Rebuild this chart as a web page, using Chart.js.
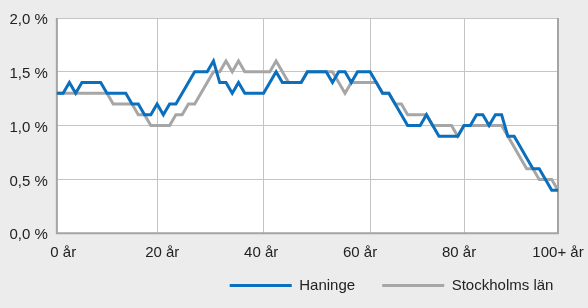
<!DOCTYPE html>
<html>
<head>
<meta charset="utf-8">
<script src="https://cdn.jsdelivr.net/npm/chart.js@4.4.1/dist/chart.umd.min.js"></script>
<style>
  html, body { margin: 0; padding: 0; background: #ececec; }
  #wrap { width: 588px; height: 308px; }
</style>
</head>
<body>
<div id="wrap"><canvas id="ageChart" width="588" height="308"></canvas></div>
<script>
// Andel av befolkningen per ålder (%)
const haninge = [
    1.3, 1.3, 1.4, 1.3, 1.4, 1.4, 1.4, 1.4, 1.3, 1.3,
    1.3, 1.3, 1.2, 1.2, 1.1, 1.1, 1.2, 1.1, 1.2, 1.2,
    1.3, 1.4, 1.5, 1.5, 1.5, 1.6, 1.4, 1.4, 1.3, 1.4,
    1.3, 1.3, 1.3, 1.3, 1.4, 1.5, 1.4, 1.4, 1.4, 1.4,
    1.5, 1.5, 1.5, 1.5, 1.4, 1.5, 1.5, 1.4, 1.5, 1.5,
    1.5, 1.4, 1.3, 1.3, 1.2, 1.1, 1.0, 1.0, 1.0, 1.1,
    1.0, 0.9, 0.9, 0.9, 0.9, 1.0, 1.0, 1.1, 1.1, 1.0,
    1.1, 1.1, 0.9, 0.9, 0.8, 0.7, 0.6, 0.6, 0.5, 0.4,
    0.4
];
const stockholmsLan = [
    1.3, 1.3, 1.3, 1.3, 1.3, 1.3, 1.3, 1.3, 1.3, 1.2,
    1.2, 1.2, 1.2, 1.1, 1.1, 1.0, 1.0, 1.0, 1.0, 1.1,
    1.1, 1.2, 1.2, 1.3, 1.4, 1.5, 1.5, 1.6, 1.5, 1.6,
    1.5, 1.5, 1.5, 1.5, 1.5, 1.6, 1.5, 1.4, 1.4, 1.4,
    1.5, 1.5, 1.5, 1.5, 1.5, 1.4, 1.3, 1.4, 1.4, 1.4,
    1.4, 1.4, 1.3, 1.3, 1.2, 1.2, 1.1, 1.1, 1.1, 1.1,
    1.0, 1.0, 1.0, 1.0, 0.9, 1.0, 1.0, 1.0, 1.0, 1.0,
    1.0, 1.0, 0.9, 0.8, 0.7, 0.6, 0.6, 0.5, 0.5, 0.5,
    0.4
];
const seriesNames = ['Haninge', 'Stockholms län'];
const ageTicks = [0, 20, 40, 60, 80, 100];
const ageTickLabels = ['0 år', '20 år', '40 år', '60 år', '80 år', '100+ år'];
// punkter som har en lodrät stödlinje i originalet
const gridPoints = [0, 16, 33, 50, 65, 80];
const yTicks = [0, 0.5, 1.0, 1.5, 2.0];

const categories = haninge.map((_, i) => {
    const k = gridPoints.indexOf(i);
    return k >= 0 ? ageTickLabels[k] : '';
});

const FONT = "'Liberation Sans', Arial, sans-serif";
const TEXT = '#222222';
const FRAME = '#a4a4a4';
const GRID = '#c4c4c4';

// white plot area + frame (left, bottom, right)
const plotFrame = {
    id: 'plotFrame',
    beforeDraw(chart) {
        const { ctx, chartArea: a } = chart;
        ctx.save();
        ctx.fillStyle = '#ffffff';
        ctx.fillRect(a.left, a.top, a.right - a.left, a.bottom - a.top);
        ctx.restore();
    },
    beforeDatasetsDraw(chart) {
        const { ctx, chartArea: a } = chart;
        ctx.save();
        ctx.strokeStyle = FRAME;
        ctx.lineWidth = 2;
        ctx.beginPath();
        ctx.moveTo(a.left, a.top);
        ctx.lineTo(a.left, a.bottom);
        ctx.lineTo(a.right, a.bottom);
        ctx.lineTo(a.right, a.top);
        ctx.stroke();
        ctx.restore();
    }
};

new Chart(document.getElementById('ageChart'), {
    type: 'line',
    data: {
        labels: categories,
        datasets: [
            {
                label: seriesNames[0],
                data: haninge,
                borderColor: '#0a6fbd',
                backgroundColor: '#0a6fbd',
                borderWidth: 3,
                pointRadius: 0,
                tension: 0
            },
            {
                label: seriesNames[1],
                data: stockholmsLan,
                borderColor: '#a6a6a6',
                backgroundColor: '#a6a6a6',
                borderWidth: 3,
                pointRadius: 0,
                tension: 0
            }
        ]
    },
    options: {
        responsive: false,
        animation: false,
        layout: { padding: { top: 6, left: 0.5, right: 30, bottom: 5 } },
        plugins: {
            legend: {
                position: 'bottom',
                align: 'end',
                labels: {
                    usePointStyle: true,
                    pointStyle: 'line',
                    pointStyleWidth: 62,
                    padding: 4.6,
                    color: TEXT,
                    font: { family: FONT, size: 15 },
                    generateLabels: (chart) => {
                        const items = Chart.defaults.plugins.legend.labels.generateLabels(chart);
                        // extra gap after the first entry
                        items[0].text += '\u2003\u2002';
                        return items;
                    }
                }
            },
            tooltip: { enabled: false }
        },
        scales: {
            x: {
                type: 'category',
                position: 'bottom',
                offset: false,
                ticks: { display: false, autoSkip: false },
                grid: {
                    drawTicks: false,
                    color: (c) => categories[c.index] ? GRID : 'rgba(0,0,0,0)',
                    lineWidth: 1
                },
                border: { display: false }
            },
            xAge: {
                type: 'linear',
                position: 'bottom',
                min: -1.3,
                max: 100,
                afterBuildTicks: (scale) => {
                    scale.ticks = ageTicks.map(v => ({ value: v }));
                },
                afterFit: (scale) => {
                    scale.paddingRight = 0;
                },
                ticks: {
                    padding: 11.1,
                    color: TEXT,
                    font: { family: FONT, size: 15 },
                    maxRotation: 0,
                    callback: (v) => ageTickLabels[ageTicks.indexOf(v)]
                },
                grid: { display: false, drawTicks: false },
                border: { display: false }
            },
            y: {
                min: 0,
                max: 2,
                afterBuildTicks: (scale) => {
                    scale.ticks = yTicks.map(v => ({ value: v }));
                },
                ticks: {
                    padding: 9,
                    labelOffset: 2,
                    color: TEXT,
                    font: { family: FONT, size: 15 },
                    callback: (v) => v.toFixed(1).replace('.', ',') + ' %'
                },
                grid: { color: GRID, lineWidth: 1, drawTicks: false },
                border: { display: false }
            }
        }
    },
    plugins: [plotFrame]
});
</script>
</body>
</html>
